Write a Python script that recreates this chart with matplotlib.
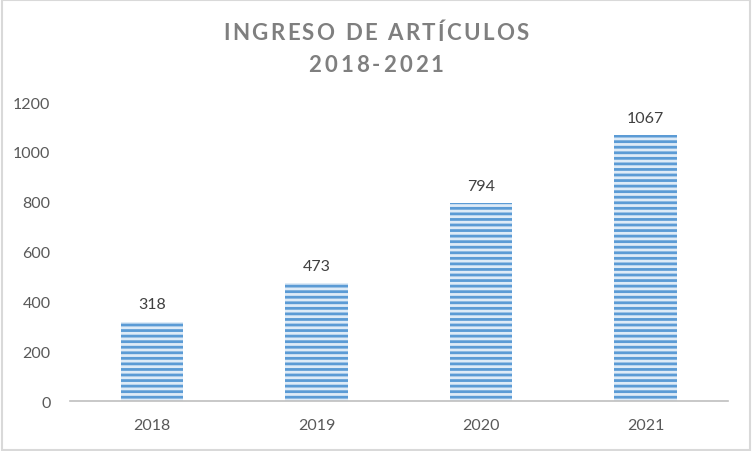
import matplotlib.pyplot as plt

years = ['2018', '2019', '2020', '2021']
articulos = [318, 473, 794, 1067]
yticks = [0, 200, 400, 600, 800, 1000, 1200]
titulo = ['INGRESO DE ARTÍCULOS', '2018-2021']

plt.rcParams['font.family'] = ['Lato', 'DejaVu Sans']
plt.rcParams['hatch.linewidth'] = 2.0
plt.rcParams['hatch.color'] = '#5b9bd5'

fig = plt.figure(figsize=(7.52, 4.52), dpi=100)
ax = fig.add_axes([0.093, 0.1106, 0.875, 0.6614])

x = range(len(years))
bars = ax.bar(x, articulos, width=0.38, color='#deebf7',
              edgecolor='#5b9bd5', hatch='---', linewidth=0)
for b, v in zip(bars, articulos):
    ax.text(b.get_x() + b.get_width() / 2, v + 42, str(v),
            ha='center', va='bottom', fontsize=11.5, color='#404040')

ax.set_xlim(-0.5, 3.5)
ax.set_ylim(0, 1200)
ax.set_yticks(yticks)
ax.set_xticks(list(x))
ax.set_xticklabels(years)
ax.tick_params(axis='both', length=0, labelsize=11.5, colors='#595959')
ax.tick_params(axis='y', pad=14)
ax.tick_params(axis='x', pad=12)
for s in ['top', 'right', 'left']:
    ax.spines[s].set_visible(False)
ax.spines['bottom'].set_color('#bfbfbf')
ax.spines['bottom'].set_linewidth(1.2)


def spaced_title(s, yfig, spacing, **kw):
    # texto con espaciado entre letras, una letra a la vez
    r = fig.canvas.get_renderer()

    def w(txt):
        t = fig.text(0, 0, txt + '|', **kw)
        ww = t.get_window_extent(r).width
        t.remove()
        return ww

    bar_w = w('')
    widths = [w(s[:i]) - bar_w for i in range(len(s) + 1)]
    total = widths[-1] + spacing * (len(s) - 1)
    x0 = fig.bbox.width / 2 - total / 2
    for i, ch in enumerate(s):
        xpx = x0 + widths[i] + spacing * i
        fig.text(xpx / fig.bbox.width, yfig, ch, ha='left', va='center', **kw)


tkw = dict(fontsize=16, fontweight='bold', color='#7f7f7f')
spaced_title(titulo[0], 0.925, 2.4, **tkw)
spaced_title(titulo[1], 0.855, 3.0, **tkw)

# marco gris alrededor
fig.patches.append(plt.Rectangle((0.002, 0.003), 0.996, 0.994, transform=fig.transFigure,
                                 fill=False, edgecolor='#d9d9d9', linewidth=1.5))

plt.savefig('out.png', dpi=100)
